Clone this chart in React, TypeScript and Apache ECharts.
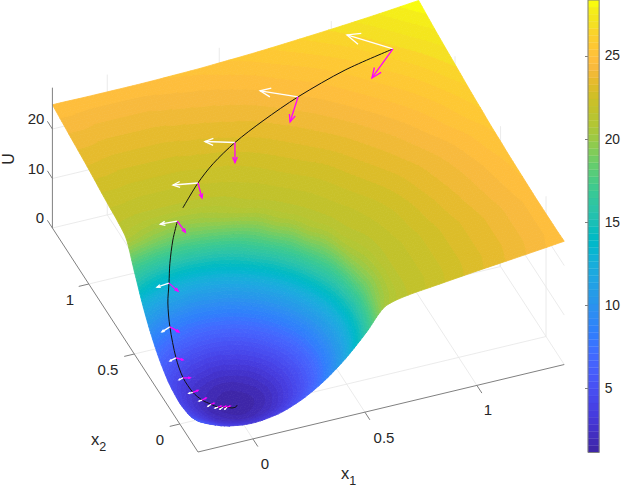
import React, { useEffect, useRef } from "react";
import * as echarts from "echarts";

// ---- data ----
const x1Grid = [-0.245, -0.2, -0.1, 0, 0.1, 0.2, 0.3, 0.4, 0.5, 0.6, 0.7, 0.8, 1, 1.2, 1.39];
const x2Grid = [-0.2, -0.1, 0, 0.1, 0.2, 0.3, 0.4, 0.5, 0.6, 0.7, 0.8, 1, 1.2, 1.4];
const uRows = [
  [6.2, 5.2, 3.7, 3.2, 3.7, 5.2, 7.7, 11.2, 15.7, 20.6, 21.6, 22.1, 23.1, 24, 24.9],
  [4.7, 3.7, 2.2, 1.7, 2.2, 3.7, 6.2, 9.7, 14.2, 19.7, 21.5, 22, 23, 23.9, 24.8],
  [4.2, 3.2, 1.7, 1.2, 1.7, 3.2, 5.7, 9.2, 13.7, 19.2, 21.5, 22, 23, 23.9, 24.8],
  [4.7, 3.7, 2.2, 1.7, 2.2, 3.7, 6.2, 9.7, 14.2, 19.7, 21.5, 22, 23, 23.9, 24.8],
  [6.2, 5.2, 3.7, 3.2, 3.7, 5.2, 7.7, 11.2, 15.7, 20.6, 21.6, 22.1, 23.1, 24, 24.9],
  [8.7, 7.7, 6.2, 5.7, 6.2, 7.7, 10.2, 13.7, 18.2, 21.3, 21.8, 22.2, 23.2, 24.1, 25],
  [12.2, 11.2, 9.7, 9.2, 9.7, 11.2, 13.7, 17.2, 20.8, 21.6, 22, 22.4, 23.35, 24.2, 25.1],
  [16.7, 15.7, 14.2, 13.7, 14.2, 15.7, 18.2, 20.8, 21.5, 21.9, 22.3, 22.7, 23.5, 24.35, 25.3],
  [21, 20.6, 19.7, 19.2, 19.7, 20.6, 21.3, 21.6, 21.9, 22.2, 22.6, 23, 23.75, 24.55, 25.45],
  [21.7, 21.6, 21.5, 21.5, 21.5, 21.6, 21.8, 22, 22.3, 22.6, 22.9, 23.3, 24, 24.85, 25.75],
  [22.1, 22.1, 22, 22, 22, 22.1, 22.2, 22.4, 22.7, 23, 23.3, 23.6, 24.3, 25.1, 26],
  [23.15, 23.1, 23, 23, 23, 23.1, 23.2, 23.35, 23.5, 23.75, 24, 24.3, 25, 25.75, 26.7],
  [24, 24, 23.9, 23.9, 23.9, 24, 24.1, 24.2, 24.35, 24.55, 24.85, 25.1, 25.75, 26.6, 27.4],
  [24.9, 24.9, 24.85, 24.85, 24.85, 24.9, 25, 25.1, 25.3, 25.5, 25.75, 26.05, 26.7, 27.45, 28.3],
];

// black trajectory, upper part then lower part (there is a gap where it goes behind the fold)
const pathUpperX1 = [1.19, 0.966, 0.73, 0.543, 0.388, 0.257, 0.157, 0.045];
const pathUpperX2 = [1.19, 1.164, 1.1, 1.025, 0.952, 0.87, 0.79, 0.68];
const pathUpperU = [26.6, 25.5, 24.45, 23.75, 23.1, 22.55, 22, 21.3];
const pathLowerX1 = [0, -0.037, -0.074, -0.097, -0.124, -0.145, -0.162, -0.164, -0.149, -0.125, -0.096, -0.073, -0.053, -0.036, -0.018, 0, 0.009];
const pathLowerX2 = [0.63, 0.588, 0.53, 0.483, 0.429, 0.355, 0.246, 0.163, 0.092, 0.051, 0.024, 0.003, -0.001, -0.004, -0.015, -0.014, -0.004];
const pathLowerU = [20.5, 18.3, 15.6, 13.2, 11, 8.5, 5.5, 3.85, 2.75, 2.1, 1.7, 1.47, 1.35, 1.26, 1.2, 1.2, 1.2];

// arrows: foot on the trajectory and the two vectors
const footX1 = [1.19, 0.73, 0.388, 0.157, 0, -0.097, -0.145, -0.162, -0.164, -0.149, -0.125, -0.096, -0.073, -0.053, -0.036];
const footX2 = [1.19, 1.1, 0.952, 0.79, 0.63, 0.483, 0.355, 0.246, 0.163, 0.092, 0.051, 0.024, 0.003, -0.001, -0.004];
const footU = [26.6, 24.45, 23.1, 22, 20.5, 13.2, 8.5, 5.5, 3.85, 2.75, 2.1, 1.7, 1.47, 1.35, 1.26];
const whiteD1 = [-0.1426, -0.1318, -0.1134, -0.1016, -0.0732, -0.0564, -0.0435, -0.0307, -0.0205, -0.018, -0.0141, -0.0166, -0.0141, -0.0166, -0.0128];
const whiteD2 = [0.1545, 0.0932, 0.0505, 0.0245, 0.0066, -0.007, -0.0191, -0.0097, -0.0065, -0.0003, -0.0018, -0.008, -0.0018, -0.008, -0.0094];
const magentaD1 = [-0.154, -0.0937, -0.0502, -0.0222, 0.0033, 0.0147, 0.0222, 0.022, 0.0271, 0.0243, 0.0205, 0.0141, 0.0141, 0.0141, 0.0141];
const magentaD2 = [-0.1483, -0.1428, -0.1237, -0.0987, -0.0798, -0.0628, -0.0442, -0.0227, -0.0103, 0.005, 0.0065, 0.0018, 0.0018, 0.0018, 0.0018];

const x1Ticks = [0, 0.5, 1];
const x2Ticks = [0, 0.5, 1];
const uTicks = [0, 10, 20];
const barTicks = [5, 10, 15, 20, 25];
const barMin = 1.17;
const barMax = 28.35;

const baseMap = [
  [0.2422, 0.1504, 0.6603], [0.2504, 0.165, 0.7076], [0.2578, 0.1818, 0.7511], [0.2647, 0.1978, 0.7952],
  [0.2706, 0.2147, 0.8364], [0.2751, 0.2342, 0.871], [0.2783, 0.2559, 0.8991], [0.2803, 0.2782, 0.9221],
  [0.2813, 0.3006, 0.9414], [0.281, 0.3228, 0.9579], [0.2795, 0.3447, 0.9717], [0.276, 0.3667, 0.9829],
  [0.2699, 0.3892, 0.9906], [0.2602, 0.4123, 0.9952], [0.244, 0.4358, 0.9988], [0.2206, 0.4603, 0.9973],
  [0.1963, 0.4847, 0.9892], [0.1834, 0.5074, 0.9798], [0.1786, 0.5289, 0.9682], [0.1764, 0.5499, 0.952],
  [0.1687, 0.5703, 0.9359], [0.154, 0.5902, 0.9218], [0.146, 0.6091, 0.9079], [0.138, 0.6276, 0.8973],
  [0.1248, 0.6459, 0.8883], [0.1113, 0.6635, 0.8763], [0.0952, 0.6798, 0.8598], [0.0689, 0.6948, 0.8394],
  [0.0297, 0.7082, 0.8163], [0.0036, 0.7203, 0.7917], [0.0067, 0.7312, 0.766], [0.0433, 0.7411, 0.7394],
  [0.0964, 0.75, 0.712], [0.1408, 0.7584, 0.6842], [0.1717, 0.767, 0.6554], [0.1938, 0.7758, 0.6251],
  [0.2161, 0.7843, 0.5923], [0.247, 0.7918, 0.5567], [0.2906, 0.7973, 0.5188], [0.3406, 0.8008, 0.4789],
  [0.3909, 0.8029, 0.4354], [0.4456, 0.8024, 0.3909], [0.5044, 0.7993, 0.348], [0.5616, 0.7942, 0.3045],
  [0.6174, 0.7876, 0.2612],
  // the top of the picture's colour bar, read from it
  [0.66, 0.78, 0.23], [0.7, 0.775, 0.205], [0.7242, 0.7698, 0.191], [0.76, 0.762, 0.17], [0.79, 0.756, 0.16],
  [0.8203, 0.7498, 0.1535], [0.8634, 0.7406, 0.1596], [0.9035, 0.733, 0.1774], [0.9393, 0.7288, 0.21],
  [0.9728, 0.7289, 0.2395], [0.9956, 0.7434, 0.2371], [0.997, 0.7659, 0.2199], [0.9952, 0.7861, 0.1998],
  [0.9892, 0.8086, 0.1827], [0.9786, 0.831, 0.165], [0.9597, 0.8783, 0.1355], [0.9566, 0.9035, 0.1148],
  [0.9589, 0.9287, 0.0966], [0.9763, 0.9831, 0.0538],
];
const parula = baseMap.map((c) => `rgb(${Math.round(c[0] * 255)},${Math.round(c[1] * 255)},${Math.round(c[2] * 255)})`);

// ---- view of the 3D box ----
const x1Min = x1Grid[0];
const x1Max = x1Grid[x1Grid.length - 1];
const x2Min = x2Grid[0];
const x2Max = x2Grid[x2Grid.length - 1];
const project = (a: number, b: number, u: number) => [
  198 + (a - x1Min) * 224 - (b - x2Min) * 91,
  452 - (a - x1Min) * 53.5 - (b - x2Min) * 140 - u * 4.95,
];

// smooth shading of the surface between the table's nodes (monotone, so no overshoot)
const shade = (xs: number[], ys: number[], q: number) => {
  const n = xs.length;
  const h = xs.slice(1).map((x, i) => x - xs[i]);
  const d = h.map((w, i) => (ys[i + 1] - ys[i]) / w);
  const m = xs.map((_, i) => {
    if (i === 0) return d[0];
    if (i === n - 1) return d[n - 2];
    if (d[i - 1] * d[i] <= 0) return 0;
    const w1 = 2 * h[i] + h[i - 1];
    const w2 = h[i] + 2 * h[i - 1];
    return (w1 + w2) / (w1 / d[i - 1] + w2 / d[i]);
  });
  let k = 0;
  while (k < n - 2 && q > xs[k + 1]) k++;
  const t = (q - xs[k]) / h[k];
  const t2 = t * t, t3 = t2 * t;
  return (2 * t3 - 3 * t2 + 1) * ys[k] + (t3 - 2 * t2 + t) * h[k] * m[k] + (-2 * t3 + 3 * t2) * ys[k + 1] + (t3 - t2) * h[k] * m[k + 1];
};

const STEP = 0.02;
const n1 = Math.round((x1Max - x1Min) / STEP);
const n2 = Math.round((x2Max - x2Min) / STEP);
const lat1 = Array.from({ length: n1 + 1 }, (_, i) => x1Min + ((x1Max - x1Min) * i) / n1);
const lat2 = Array.from({ length: n2 + 1 }, (_, j) => x2Min + ((x2Max - x2Min) * j) / n2);
const alongX1 = uRows.map((row) => lat1.map((a) => shade(x1Grid, row, a)));
const lattice = lat2.map((b) => lat1.map((_, i) => shade(x2Grid, alongX1.map((r) => r[i]), b)));

// cut one facet into the flat colour bands of the colormap
type Facet = { pts: number[][]; fill: string };
const facets: Facet[] = [];
const cut = (poly: number[][], level: number, keepAbove: boolean) => {
  const out: number[][] = [];
  for (let i = 0; i < poly.length; i++) {
    const p = poly[i], q = poly[(i + 1) % poly.length];
    const pIn = keepAbove ? p[2] >= level : p[2] <= level;
    const qIn = keepAbove ? q[2] >= level : q[2] <= level;
    if (pIn) out.push(p);
    if (pIn !== qIn) {
      const t = (level - p[2]) / (q[2] - p[2]);
      out.push([p[0] + t * (q[0] - p[0]), p[1] + t * (q[1] - p[1]), level]);
    }
  }
  return out;
};
const bandWidth = (barMax - barMin) / 64;
for (let j = n2 - 1; j >= 0; j--) {
  for (let i = n1 - 1; i >= 0; i--) {
    const poly = [
      [lat1[i], lat2[j], lattice[j][i]],
      [lat1[i + 1], lat2[j], lattice[j][i + 1]],
      [lat1[i + 1], lat2[j + 1], lattice[j + 1][i + 1]],
      [lat1[i], lat2[j + 1], lattice[j + 1][i]],
    ];
    const us = poly.map((p) => p[2]);
    const kLo = Math.max(0, Math.min(63, Math.floor((Math.min(...us) - barMin) / bandWidth)));
    const kHi = Math.max(0, Math.min(63, Math.floor((Math.max(...us) - barMin) / bandWidth)));
    for (let k = kLo; k <= kHi; k++) {
      let part = poly;
      if (k > kLo) part = cut(part, barMin + k * bandWidth, true);
      if (k < kHi) part = cut(part, barMin + (k + 1) * bandWidth, false);
      if (part.length >= 3) facets.push({ pts: part.map((p) => project(p[0], p[1], p[2])), fill: parula[k] });
    }
  }
}

const AXIS = "#808080";
const GRID = "#e6e6e6";
const TEXT = "#262626";
const FONT = "Liberation Sans";

type Seg = { p: number[][]; c: string; w: number; s?: number };
const gridSegs: Seg[] = [];
const addGrid = (a: number[], b: number[]) => gridSegs.push({ p: [project(a[0], a[1], a[2]), project(b[0], b[1], b[2])], c: GRID, w: 0.8 });
x1Ticks.forEach((t) => {
  addGrid([t, x2Min, 0], [t, x2Max, 0]);
  addGrid([t, x2Max, 0], [t, x2Max, barMax]);
});
x2Ticks.forEach((t) => {
  addGrid([x1Min, t, 0], [x1Max, t, 0]);
  addGrid([x1Max, t, 0], [x1Max, t, barMax]);
});
uTicks.forEach((t) => {
  addGrid([x1Min, x2Max, t], [x1Max, x2Max, t]);
  addGrid([x1Max, x2Max, t], [x1Max, x2Min, t]);
});
const axisSegs: Seg[] = [];
const addAxis = (a: number[], b: number[]) => axisSegs.push({ p: [project(a[0], a[1], a[2]), project(b[0], b[1], b[2])], c: AXIS, w: 1 });
addAxis([x1Min, x2Min, 0], [x1Max, x2Min, 0]);
addAxis([x1Min, x2Min, 0], [x1Min, x2Max, 0]);
addAxis([x1Min, x2Max, 0], [x1Min, x2Max, barMax]);
x1Ticks.forEach((t) => addAxis([t, x2Min, 0], [t, x2Min - 0.055, 0]));
x2Ticks.forEach((t) => addAxis([x1Min, t, 0], [x1Min - 0.045, t, 0]));
uTicks.forEach((t) => addAxis([x1Min, x2Max, t], [x1Min, x2Max + 0.055, t]));

const lineSeries = (id: string, segs: Seg[], z: number) => ({
  type: "custom",
  id,
  xAxisIndex: 0,
  yAxisIndex: 0,
  silent: true,
  z,
  clip: false,
  progressive: 0,
  data: segs.map((_, i) => i),
  renderItem: (_: any, api: any) => {
    const s = segs[api.value(0)];
    return {
      type: "polyline",
      shape: { points: s.p.map((q) => api.coord(q)), smooth: s.s || 0 },
      style: { stroke: s.c, lineWidth: s.w, fill: "none" },
    };
  },
});

const arrowSegs = (d1: number[], d2: number[], color: string, width: number): Seg[] => {
  const out: Seg[] = [];
  footX1.forEach((a, i) => {
    const from = project(a, footX2[i], footU[i]);
    const to = project(a + d1[i], footX2[i] + d2[i], footU[i]);
    const dx = to[0] - from[0], dy = to[1] - from[1];
    const head = 0.3;
    const ang = 0.4;
    const cs = Math.cos(ang), sn = Math.sin(ang);
    const l = [to[0] - head * (dx * cs - dy * sn), to[1] - head * (dx * sn + dy * cs)];
    const r = [to[0] - head * (dx * cs + dy * sn), to[1] - head * (-dx * sn + dy * cs)];
    out.push({ p: [from, to], c: color, w: width });
    out.push({ p: [l, to, r], c: color, w: width });
  });
  return out;
};

const pathSeg = (xs: number[], ys: number[], us: number[]): Seg => ({
  p: xs.map((a, i) => project(a, ys[i], us[i])),
  c: "#111111",
  w: 1,
  s: 0.3,
});

const tickLabels = [
  { t: "0", x: 265, y: 463 }, { t: "0.5", x: 384, y: 437 }, { t: "1", x: 488, y: 409 },
  { t: "0", x: 160, y: 439 }, { t: "0.5", x: 108, y: 369 }, { t: "1", x: 70, y: 299 },
  { t: "0", x: 40, y: 217 }, { t: "10", x: 36, y: 168 }, { t: "20", x: 36, y: 118 },
];

const barLevels = parula.map((_, i) => i);
const labelRich = {
  a: { font: `16.5px '${FONT}'`, fill: TEXT },
  b: { font: `12.5px '${FONT}'`, fill: TEXT, padding: [15, 0, 0, 0] },
};

export default function App() {
  const ref = useRef<HTMLDivElement>(null);
  useEffect(() => {
    const chart = echarts.init(ref.current!, undefined, { renderer: "svg" });
    chart.setOption({
      animation: false,
      backgroundColor: "#ffffff",
      grid: [
        { left: 0, top: 0, width: 623, height: 486, show: false },
        { left: 588, top: 0, width: 14, height: 452.5, show: true, borderColor: AXIS, borderWidth: 1, z: 5, backgroundColor: "transparent" },
      ],
      xAxis: [
        { type: "value", min: 0, max: 623, show: false, gridIndex: 0 },
        { type: "value", min: 0, max: 1, show: false, gridIndex: 1 },
      ],
      yAxis: [
        { type: "value", min: 0, max: 486, inverse: true, show: false, gridIndex: 0 },
        {
          type: "value",
          min: barMin,
          max: barMax,
          gridIndex: 1,
          position: "right",
          axisLine: { show: false },
          splitLine: { show: false },
          axisTick: { show: true, inside: true, length: 3, customValues: barTicks, lineStyle: { color: AXIS } },
          axisLabel: { customValues: barTicks, color: TEXT, fontFamily: FONT, fontSize: 13.8, margin: 5.5 },
        },
      ],
      graphic: [
        { type: "text", x: 8.5, y: 159, rotation: Math.PI / 2, style: { text: "U", font: `16px '${FONT}'`, fill: TEXT, align: "center", verticalAlign: "middle" } },
        { type: "text", x: 91, y: 439, style: { text: "{a|x}{b|2}", rich: labelRich, verticalAlign: "middle" } },
        { type: "text", x: 341, y: 473, style: { text: "{a|x}{b|1}", rich: labelRich, verticalAlign: "middle" } },
        ...tickLabels.map((l) => ({
          type: "text",
          x: l.x,
          y: l.y,
          style: { text: l.t, font: `15px '${FONT}'`, fill: TEXT, align: "center", verticalAlign: "middle" },
        })),
      ],
      series: [
        lineSeries("grid3d", gridSegs, 1),
        {
          type: "custom",
          id: "surface",
          xAxisIndex: 0,
          yAxisIndex: 0,
          silent: true,
          z: 2,
          clip: false,
          progressive: 0,
          data: facets.map((_, i) => i),
          renderItem: (_: any, api: any) => {
            const f = facets[api.value(0)];
            return {
              type: "polygon",
              shape: { points: f.pts.map((q) => api.coord(q)) },
              style: { fill: f.fill, stroke: f.fill, lineWidth: 0.8 },
            };
          },
        },
        lineSeries("axes3d", axisSegs, 3),
        lineSeries("path", [pathSeg(pathUpperX1, pathUpperX2, pathUpperU), pathSeg(pathLowerX1, pathLowerX2, pathLowerU)], 4),
        lineSeries("gradWhite", arrowSegs(whiteD1, whiteD2, "#ffffff", 1.3), 5),
        lineSeries("gradMagenta", arrowSegs(magentaD1, magentaD2, "#ff00ff", 1.3), 5),
        {
          type: "custom",
          id: "colorbar",
          xAxisIndex: 1,
          yAxisIndex: 1,
          silent: true,
          z: 2,
          data: barLevels,
          renderItem: (_: any, api: any) => {
            const k = api.value(0);
            const lo = barMin + ((barMax - barMin) * k) / 64;
            const hi = barMin + ((barMax - barMin) * (k + 1)) / 64;
            const a = api.coord([0, hi]);
            const b = api.coord([1, lo]);
            return {
              type: "rect",
              shape: { x: a[0], y: a[1], width: b[0] - a[0], height: b[1] - a[1] },
              style: { fill: parula[k], stroke: parula[k], lineWidth: 0.3 },
            };
          },
        },
      ],
    });
    return () => chart.dispose();
  }, []);
  return <div ref={ref} style={{ position: "absolute", left: 0, top: 0, width: 623, height: 486 }} />;
}
